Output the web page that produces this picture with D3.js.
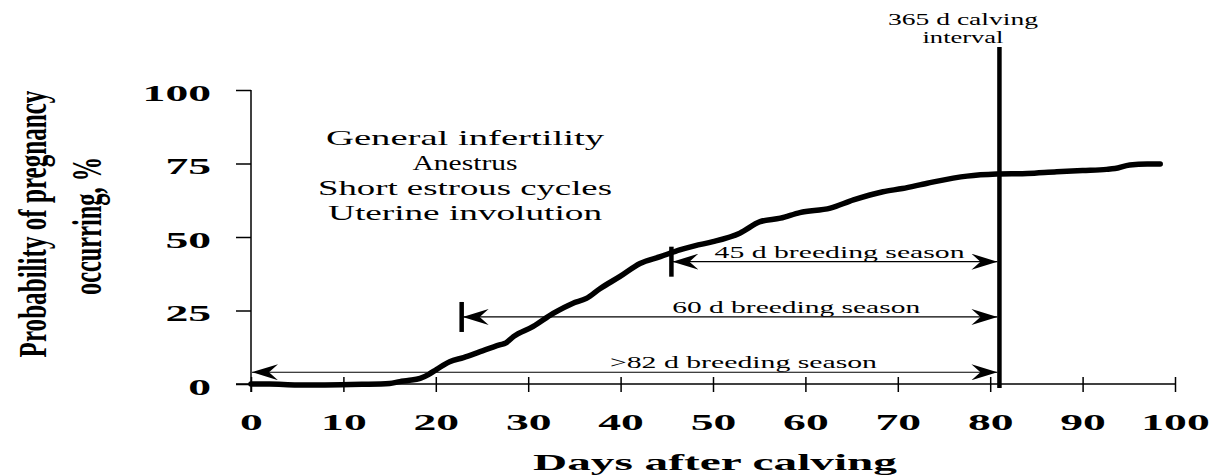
<!DOCTYPE html>
<html lang="en">
<head>
<meta charset="UTF-8">
<title>Probability of pregnancy</title>
<style>
  body { margin: 0; background: #fff; }
  svg { display: block; }
</style>
</head>
<body>
<script src="https://cdn.jsdelivr.net/npm/d3@7/dist/d3.min.js"></script>
<script>
// curve (days after calving, % pregnant)
var days = [0, 2, 5, 8, 12, 15, 16.1, 17, 18.3, 19.2, 20.1, 21.5, 23, 24.8, 26.9, 27.6, 28.4, 30.5,
            32.7, 34.8, 36.3, 37.8, 39.9, 42.1, 44.3, 46.4, 48, 50, 52.9, 55.1, 57.3, 59.4, 62.7,
            65.2, 68.4, 70.5, 73.2, 77.5, 80.7, 84, 87.2, 90, 92.6, 93.5, 95.1, 97, 98.4];
var pregPct = [0, 0, -0.3, -0.3, -0.1, 0.2, 0.8, 1.2, 1.9, 3.2, 5, 7.6, 9, 11, 13.3, 14, 16.1, 19.5,
               24, 27.4, 29.1, 32.5, 36.5, 41, 43.3, 45.6, 47, 48.4, 51.3, 55.2, 56.4, 58.3, 59.8,
               62.6, 65.4, 66.5, 68.3, 70.7, 71.4, 71.6, 72.2, 72.6, 73, 73.3, 74.5, 74.8, 74.8];

var xTicks = [0, 10, 20, 30, 40, 50, 60, 70, 80, 90, 100];
var yTicks = [0, 25, 50, 75, 100];

// breeding seasons: label, first day, level on the y scale
var seasonLabels = [">82 d breeding season", "60 d breeding season", "45 d breeding season"];
var seasonStart = [0, 22.8, 45.5];
var seasonLevel = [4, 22.8, 41.6];
var calvingDay = 81;

var causes = ["General infertility", "Anestrus", "Short estrous cycles", "Uterine involution"];

var w = 1218, h = 475;
var serif = "'Liberation Serif', 'Times New Roman', serif";

var svg = d3.select("body").append("svg")
    .attr("width", w)
    .attr("height", h);

var x = d3.scaleLinear().domain([0, 100]).range([251, 1175]);
var y = d3.scaleLinear().domain([0, 100]).range([384, 90]);

// arrow head
var defs = svg.append("defs");
defs.append("marker")
    .attr("id", "head")
    .attr("viewBox", "-26 -8 27 16")
    .attr("refX", 0).attr("refY", 0)
    .attr("markerUnits", "userSpaceOnUse")
    .attr("markerWidth", 27).attr("markerHeight", 16)
    .attr("orient", "auto-start-reverse")
    .append("path")
    .attr("d", "M0,0 L-26,-8 L-17,0 L-26,8 Z")
    .attr("fill", "#000");

// y axis
var yAxis = svg.append("g")
    .attr("transform", "translate(" + x(0) + ",0)")
    .call(d3.axisLeft(y).tickValues(yTicks).tickSizeInner(15).tickSizeOuter(0).tickPadding(25));
yAxis.select(".domain").remove();
yAxis.selectAll("line").attr("stroke", "#000").attr("stroke-width", 1.5);
yAxis.selectAll("text")
    .attr("font-family", serif)
    .attr("font-weight", "bold")
    .attr("font-size", 23)
    .attr("fill", "#000")
    .attr("dy", 10)
    .attr("textLength", function(d) { return String(d).length * 22.8; })
    .attr("lengthAdjust", "spacingAndGlyphs");
svg.append("line")
    .attr("x1", x(0)).attr("x2", x(0))
    .attr("y1", y(100)).attr("y2", y(0) + 8)
    .attr("stroke", "#000").attr("stroke-width", 1.5);

// x axis
var xAxis = svg.append("g")
    .attr("transform", "translate(0," + y(0) + ")")
    .call(d3.axisBottom(x).tickValues(xTicks).tickSizeInner(8).tickSizeOuter(0));
xAxis.select(".domain").remove();
xAxis.selectAll("line").attr("y1", -7).attr("stroke", "#000").attr("stroke-width", 1.5);
xAxis.selectAll("text")
    .attr("font-family", serif)
    .attr("font-weight", "bold")
    .attr("font-size", 23)
    .attr("fill", "#000")
    .attr("y", 46)
    .attr("dy", null)
    .attr("textLength", function(d) { return String(d).length * 22.8; })
    .attr("lengthAdjust", "spacingAndGlyphs");
svg.append("line")
    .attr("x1", x(0) - 15).attr("x2", x(100))
    .attr("y1", y(0)).attr("y2", y(0))
    .attr("stroke", "#000").attr("stroke-width", 1.5);

// axis titles
svg.append("text")
    .attr("x", 715).attr("y", 470)
    .attr("text-anchor", "middle")
    .attr("font-family", serif).attr("font-weight", "bold").attr("font-size", 23)
    .attr("textLength", 364).attr("lengthAdjust", "spacingAndGlyphs")
    .text("Days after calving");

// y title: tall narrow letters, squeezed with a scale instead of textLength
function squeezedTitle(txt, cx, cy, size, len) {
    var t = svg.append("text")
        .attr("text-anchor", "middle")
        .attr("font-family", serif).attr("font-weight", "bold").attr("font-size", size)
        .text(txt);
    var natural = t.node().getComputedTextLength();
    t.attr("transform", "translate(" + cx + "," + cy + ") rotate(-90) scale(" + (len / natural) + ",1)");
}
squeezedTitle("Probability of pregnancy", 46, 224, 40, 267);
squeezedTitle("occurring, %", 101, 226, 42, 138);

// causes of early failure
var causeLen = [278, 105, 294, 274];
svg.selectAll("text.cause")
    .data(causes)
    .enter()
    .append("text")
    .attr("class", "cause")
    .attr("x", 465)
    .attr("y", function(d, i) { return 145 + i * 25; })
    .attr("text-anchor", "middle")
    .attr("font-family", serif).attr("font-size", 21)
    .attr("textLength", function(d, i) { return causeLen[i]; })
    .attr("lengthAdjust", "spacingAndGlyphs")
    .text(function(d) { return d; });

// breeding season arrows
var labelCenter = [53.3, 59, 63.7];
var labelLen = [267, 248, 250];
seasonLabels.forEach(function(lab, i) {
    var yy = y(seasonLevel[i]);
    var x0 = x(seasonStart[i]);
    svg.append("line")
        .attr("x1", x0 + 1).attr("x2", x(calvingDay) - 2)
        .attr("y1", yy).attr("y2", yy)
        .attr("stroke", "#000").attr("stroke-width", 1.2)
        .attr("marker-start", "url(#head)")
        .attr("marker-end", "url(#head)");
    if (seasonStart[i] > 0) {
        svg.append("line")
            .attr("x1", x0).attr("x2", x0)
            .attr("y1", yy - 15).attr("y2", yy + 15)
            .attr("stroke", "#000").attr("stroke-width", 4.5);
    }
    svg.append("text")
        .attr("x", x(labelCenter[i])).attr("y", yy - 4)
        .attr("text-anchor", "middle")
        .attr("font-family", serif).attr("font-size", 16)
        .attr("textLength", labelLen[i]).attr("lengthAdjust", "spacingAndGlyphs")
        .text(lab);
});

// the curve
var pts = days.map(function(d, i) { return [d, pregPct[i]]; });
svg.append("path")
    .datum(pts)
    .attr("d", d3.line()
        .x(function(d) { return x(d[0]); })
        .y(function(d) { return y(d[1]); })
        .curve(d3.curveMonotoneX))
    .attr("fill", "none")
    .attr("stroke", "#000")
    .attr("stroke-width", 5.5)
    .attr("stroke-linejoin", "round")
    .attr("stroke-linecap", "round");

// 365 d calving interval line
svg.append("line")
    .attr("x1", x(calvingDay)).attr("x2", x(calvingDay))
    .attr("y1", 47).attr("y2", y(0) + 4)
    .attr("stroke", "#000").attr("stroke-width", 4.5);
svg.append("text")
    .attr("x", 963).attr("y", 25)
    .attr("text-anchor", "middle")
    .attr("font-family", serif).attr("font-size", 16)
    .attr("textLength", 150).attr("lengthAdjust", "spacingAndGlyphs")
    .text("365 d calving");
svg.append("text")
    .attr("x", 963).attr("y", 43)
    .attr("text-anchor", "middle")
    .attr("font-family", serif).attr("font-size", 16)
    .attr("textLength", 81).attr("lengthAdjust", "spacingAndGlyphs")
    .text("interval");
</script>
</body>
</html>
